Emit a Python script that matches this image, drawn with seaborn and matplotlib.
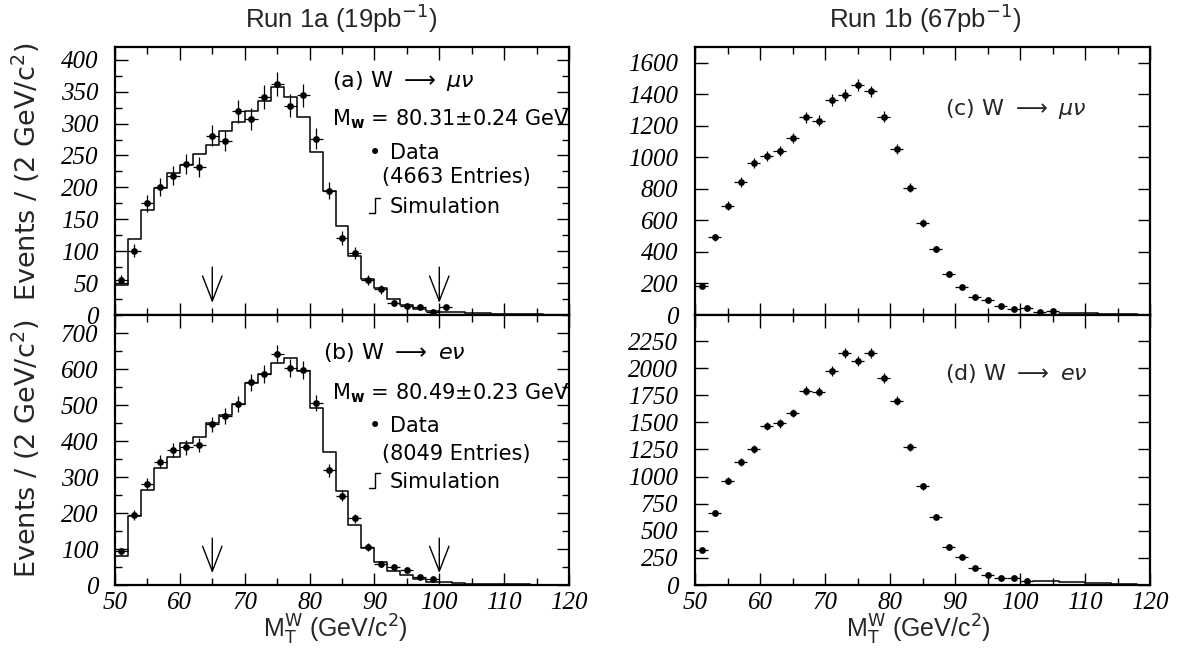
import numpy as np
import seaborn as sns
import matplotlib
matplotlib.use("Agg")
import matplotlib.pyplot as plt
from matplotlib.ticker import MultipleLocator
from matplotlib import font_manager

# ---------------- data ----------------
bin_edges = list(range(50, 122, 2))          # 2 GeV bins, 50..120
bin_centers = np.array(bin_edges[:-1]) + 1

# Run 1a  (a) W -> mu nu
sim_a = [47, 119, 164, 199, 222, 235, 252, 266, 288, 303, 320, 336, 358, 341, 310,
         255, 195, 139, 93, 56, 42, 25, 16, 10, 7, 5, 4, 3, 2.5, 2, 1.5, 1, 1, 0.5, 0.5]
data_a = [55, 101, 175, 200, 218, 237, 232, 281, 273, 319, 307, 342, 362, 328, 344,
          276, 195, 121, 97, 55, 40, 19, 14, 13, 5, 12]

# Run 1a  (b) W -> e nu
sim_b = [81, 193, 264, 324, 356, 394, 412, 449, 472, 502, 560, 586, 618, 631, 594,
         491, 370, 262, 167, 102, 63, 39, 28, 17, 9, 7, 5, 4, 3, 2.5, 2, 1.5, 1, 1, 0.5]
data_b = [94, 194, 280, 343, 375, 382, 389, 446, 469, 502, 563, 586, 641, 602, 597,
          506, 319, 248, 185, 106, 57, 51, 42, 21, 16]

# Run 1b  (c) W -> mu nu
data_c = [184, 493, 694, 844, 963, 1007, 1041, 1122, 1255, 1232, 1365, 1397, 1460, 1418,
          1259, 1052, 808, 584, 419, 260, 176, 112, 95, 57, 36, 42, 19, 25]
tail_edges_c = [106, 108, 110, 112, 114, 116, 118]
tail_c = [15, 13, 10, 8, 6, 4]

# Run 1b  (d) W -> e nu
data_d = [324, 664, 963, 1133, 1256, 1466, 1491, 1586, 1793, 1784, 1975, 2136, 2068, 2142,
          1907, 1698, 1275, 910, 630, 349, 262, 157, 93, 68, 62, 40]
tail_edges_d = [102, 104, 106, 108, 110, 112, 114, 116, 118]
tail_d = [40, 38, 28, 25, 18, 15, 12, 8]

cuts = [65, 100]
titles = ["Run 1a (19pb$^{-1}$)", "Run 1b (67pb$^{-1}$)"]

# ---------------- style ----------------
sns.set_theme(style="ticks")
names = {f.name for f in font_manager.fontManager.ttflist}
NARROW = "Liberation Sans Narrow" if "Liberation Sans Narrow" in names else "Liberation Sans"
SANS = "DejaVu Sans"
SERIF = "Liberation Serif"
plt.rcParams["font.family"] = [SANS]
plt.rcParams["font.style"] = "normal"
plt.rcParams["mathtext.fontset"] = "dejavusans"

W, H = 1178, 649
fig = plt.figure(figsize=(W / 100, H / 100), dpi=100)


def px_axes(x0, x1, ytop, ybot):
    return fig.add_axes([x0 / W, 1 - ybot / H, (x1 - x0) / W, (ybot - ytop) / H])


ax_a = px_axes(115, 569, 47, 315)
ax_b = px_axes(115, 569, 315, 585)
ax_c = px_axes(695, 1150, 47, 315)
ax_d = px_axes(695, 1150, 315, 585)


def draw_points(ax, vals):
    x = bin_centers[:len(vals)]
    y = np.asarray(vals, float)
    ax.errorbar(x, y, yerr=np.sqrt(y), xerr=1, fmt="none", ecolor="black",
                elinewidth=0.9, capsize=0, zorder=3)
    sns.scatterplot(x=x, y=y, color="black", s=24, linewidth=0, ax=ax, zorder=4)


def draw_sim(ax, edges, vals):
    e = np.asarray(edges, float)
    centers = (e[:-1] + e[1:]) / 2
    sns.histplot(x=list(centers), weights=list(vals), bins=list(edges), element="step",
                 fill=False, color="black", linewidth=1.1, ax=ax, zorder=2)


def style_axes(ax, ymax, ymaj, ymin=None, show_x=True):
    ax.set_xlim(50, 120)
    ax.set_ylim(0, ymax)
    ax.xaxis.set_major_locator(MultipleLocator(10))
    ax.xaxis.set_minor_locator(MultipleLocator(5))
    ax.yaxis.set_major_locator(MultipleLocator(ymaj))
    if ymin:
        ax.yaxis.set_minor_locator(MultipleLocator(ymin))
    else:
        ax.yaxis.set_minor_locator(plt.NullLocator())
    ax.tick_params(which="both", direction="in", top=True, right=True, width=1.0,
                   color="black", labelsize=18, labelcolor="black")
    ax.tick_params(which="major", length=9)
    ax.tick_params(which="minor", length=5)
    ax.tick_params(axis="y", pad=12)
    ax.tick_params(axis="x", pad=5, labelbottom=show_x)
    for s in ax.spines.values():
        s.set_linewidth(1.6)
        s.set_color("black")
        s.set_visible(True)
    ax.set_xlabel("")
    ax.set_ylabel("")
    ax.grid(False)
    for t in ax.xaxis.get_major_ticks() + ax.yaxis.get_major_ticks():
        for lab in (t.label1, t.label2):
            lab.set_fontfamily(SERIF)
            lab.set_fontstyle("italic")


def arrows(ax, ytop, ybot):
    for c in cuts:
        ax.annotate("", xy=(c, ybot), xytext=(c, ytop),
                    arrowprops=dict(arrowstyle="->,head_length=0.9,head_width=0.35",
                                    mutation_scale=20, color="black", lw=1.0,
                                    shrinkA=0, shrinkB=0))


def legend_block(ax, head, mw, entries, hx, hy, mwy, dy, ey, sy):
    kw = dict(transform=ax.transAxes, family=SANS, style="normal", color="black",
              va="baseline", ha="left")
    ax.text(hx, hy, head, fontsize=16, **kw)
    ax.text(0.478, mwy, mw, fontsize=15, **kw)
    ax.text(0.560, dy, "•", fontsize=15, **kw)
    ax.text(0.606, dy, "Data", fontsize=15, **kw)
    ax.text(0.588, ey, entries, fontsize=15, **kw)
    ax.plot([0.560, 0.573, 0.573, 0.584], [sy, sy, sy + 0.055, sy + 0.055],
            transform=ax.transAxes, color="black", lw=1.0)
    ax.text(0.606, sy, "Simulation", fontsize=15, **kw)


# (a)
draw_sim(ax_a, bin_edges, sim_a)
draw_points(ax_a, data_a)
style_axes(ax_a, 420, 50, 25, show_x=False)
arrows(ax_a, 75, 19)
legend_block(ax_a, r"(a) W $\longrightarrow$ $\mu\nu$",
             r"M$_{\mathbf{w}}$ = 80.31$\pm$0.24 GeV", "(4663 Entries)",
             0.478, 0.851, 0.709, 0.582, 0.493, 0.381)

# (b)
draw_sim(ax_b, bin_edges, sim_b)
draw_points(ax_b, data_b)
style_axes(ax_b, 750, 100, 50, show_x=True)
arrows(ax_b, 130, 33)
legend_block(ax_b, r"(b) W $\longrightarrow$ $e\nu$",
             r"M$_{\mathbf{w}}$ = 80.49$\pm$0.23 GeV", "(8049 Entries)",
             0.458, 0.837, 0.689, 0.567, 0.463, 0.359)

# (c)
draw_sim(ax_c, tail_edges_c, tail_c)
draw_points(ax_c, data_c)
style_axes(ax_c, 1700, 200, None, show_x=False)
ax_c.text(0.549, 0.746, r"(c) W $\longrightarrow$ $\mu\nu$", transform=ax_c.transAxes,
          fontsize=16, family=SANS, style="normal", va="baseline", ha="left")

# (d)
draw_sim(ax_d, tail_edges_d, tail_d)
draw_points(ax_d, data_d)
style_axes(ax_d, 2490, 250, None, show_x=True)
ax_d.text(0.549, 0.759, r"(d) W $\longrightarrow$ $e\nu$", transform=ax_d.transAxes,
          fontsize=16, family=SANS, style="normal", va="baseline", ha="left")

# titles / labels
fig.text(341 / W, 1 - 18 / H, titles[0], family=NARROW, style="normal", fontsize=18.5,
         ha="center", va="center")
fig.text(925 / W, 1 - 18 / H, titles[1], family=NARROW, style="normal", fontsize=18.5,
         ha="center", va="center")
xlab = r"M$_\mathrm{T}^\mathrm{W}$ (GeV/c$^2$)"
fig.text(335 / W, 1 - 630 / H, xlab, family=NARROW, style="normal", fontsize=18,
         ha="center", va="center")
fig.text(918 / W, 1 - 630 / H, xlab, family=NARROW, style="normal", fontsize=18,
         ha="center", va="center")
ylab = r"Events / (2 GeV/c$^2$)"
fig.text(26 / W, 1 - 172 / H, ylab, family=SANS, style="normal", fontsize=19.5,
         rotation=90, ha="center", va="center")
fig.text(26 / W, 1 - 449 / H, ylab, family=SANS, style="normal", fontsize=19.5,
         rotation=90, ha="center", va="center")

fig.savefig("out.png", dpi=100, facecolor="white")
